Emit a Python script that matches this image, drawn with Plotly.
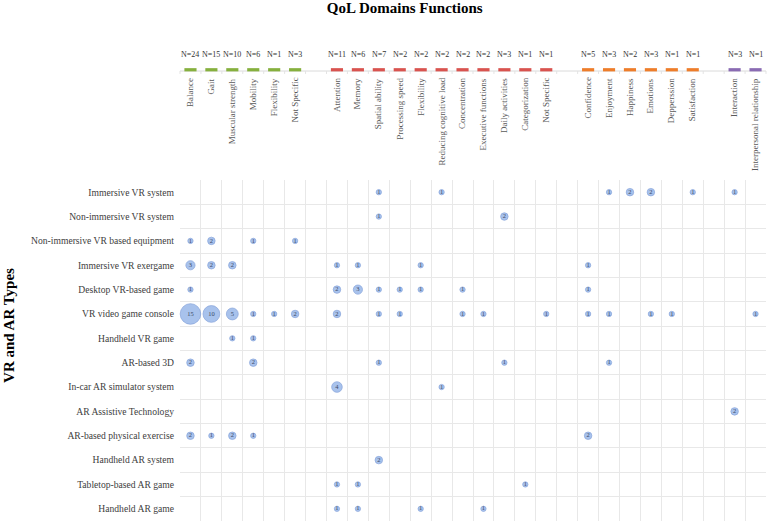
import math
import plotly.graph_objects as go

# ---------------- data ----------------
physical = ["Balance", "Gait", "Muscular strength", "Mobility", "Flexibility", "Not Specific"]
physical_n = [24, 15, 10, 6, 1, 3]
cognitive = ["Attention", "Memory", "Spatial ability", "Processing speed", "Flexibility",
             "Reducing cognitive load", "Concentration", "Executive functions",
             "Daily activities", "Categorization", "Not Specific"]
cognitive_n = [11, 6, 7, 2, 2, 2, 2, 2, 3, 1, 1]
emotional = ["Confidence", "Enjoyment", "Happiness", "Emotions", "Depperssion", "Satisfaction"]
emotional_n = [5, 3, 2, 3, 1, 1]
social = ["Interaction", "Interpersonal relationship"]
social_n = [3, 1]

vr_ar_types = [
    "Immersive VR system", "Non-immersive VR system", "Non-immersive VR based equipment",
    "Immersive VR exergame", "Desktop VR-based game", "VR video game console",
    "Handheld VR game", "AR-based 3D", "In-car AR simulator system",
    "AR Assistive Technology", "AR-based physical exercise", "Handheld AR system",
    "Tabletop-based AR game", "Handheld AR game",
]

# counts: physical(6) | cognitive(11) | emotional(6) | social(2)
counts = [
    [0, 0, 0, 0, 0, 0,  0, 0, 1, 0, 0, 1, 0, 0, 0, 0, 0,  0, 1, 2, 2, 0, 1,  1, 0],
    [0, 0, 0, 0, 0, 0,  0, 0, 1, 0, 0, 0, 0, 0, 2, 0, 0,  0, 0, 0, 0, 0, 0,  0, 0],
    [1, 2, 0, 1, 0, 1,  0, 0, 0, 0, 0, 0, 0, 0, 0, 0, 0,  0, 0, 0, 0, 0, 0,  0, 0],
    [3, 2, 2, 0, 0, 0,  1, 1, 0, 0, 1, 0, 0, 0, 0, 0, 0,  1, 0, 0, 0, 0, 0,  0, 0],
    [1, 0, 0, 0, 0, 0,  2, 3, 1, 1, 1, 0, 1, 0, 0, 0, 0,  1, 0, 0, 0, 0, 0,  0, 0],
    [15, 10, 5, 1, 1, 2, 2, 0, 1, 1, 0, 0, 1, 1, 0, 0, 1, 1, 1, 0, 1, 1, 0,  0, 1],
    [0, 0, 1, 1, 0, 0,  0, 0, 0, 0, 0, 0, 0, 0, 0, 0, 0,  0, 0, 0, 0, 0, 0,  0, 0],
    [2, 0, 0, 2, 0, 0,  0, 0, 1, 0, 0, 0, 0, 0, 1, 0, 0,  0, 1, 0, 0, 0, 0,  0, 0],
    [0, 0, 0, 0, 0, 0,  4, 0, 0, 0, 0, 1, 0, 0, 0, 0, 0,  0, 0, 0, 0, 0, 0,  0, 0],
    [0, 0, 0, 0, 0, 0,  0, 0, 0, 0, 0, 0, 0, 0, 0, 0, 0,  0, 0, 0, 0, 0, 0,  2, 0],
    [2, 1, 2, 1, 0, 0,  0, 0, 0, 0, 0, 0, 0, 0, 0, 0, 0,  2, 0, 0, 0, 0, 0,  0, 0],
    [0, 0, 0, 0, 0, 0,  0, 0, 2, 0, 0, 0, 0, 0, 0, 0, 0,  0, 0, 0, 0, 0, 0,  0, 0],
    [0, 0, 0, 0, 0, 0,  1, 1, 0, 0, 0, 0, 0, 0, 0, 1, 0,  0, 0, 0, 0, 0, 0,  0, 0],
    [0, 0, 0, 0, 0, 0,  1, 1, 0, 0, 1, 0, 0, 1, 0, 0, 0,  0, 0, 0, 0, 0, 0,  0, 0],
]

domain_colors = ["#86B03E", "#D9534F", "#EE7D2A", "#8A6BB3"]

# ---------------- layout of columns (gap column between domains) ----------------
groups = [(physical, physical_n), (cognitive, cognitive_n), (emotional, emotional_n), (social, social_n)]
col_pos, col_label, col_n, col_color = [], [], [], []
pos = 0
for gi, (labels, ns) in enumerate(groups):
    for lab, n in zip(labels, ns):
        col_pos.append(pos)
        col_label.append(lab)
        col_n.append(n)
        col_color.append(domain_colors[gi])
        pos += 1
    if gi < len(groups) - 1:
        pos += 1  # gap column
ncols = pos  # 28

xs, ys, vals = [], [], []
for r, row in enumerate(counts):
    for c, v in enumerate(row):
        if v > 0:
            xs.append(col_pos[c])
            ys.append(r)
            vals.append(v)

sizes = [5.3 * math.sqrt(v) for v in vals]

fig = go.Figure()
fig.add_trace(go.Scatter(
    x=xs, y=ys, mode="markers+text",
    text=[str(v) for v in vals],
    textposition="middle center",
    textfont=dict(family="Liberation Serif", size=6.5, color="#3A4A66"),
    marker=dict(size=sizes, color="rgba(115,157,225,0.88)",
                line=dict(color="rgba(88,128,205,0.9)", width=0.8)),
    hoverinfo="skip", showlegend=False, cliponaxis=False,
))

FONT = "Liberation Serif"
annotations = []
shapes = []

# header line
shapes.append(dict(type="line", xref="paper", yref="paper", x0=0, x1=1,
                   y0=1.3196, y1=1.3196, line=dict(color="#DADADA", width=1)))
for k in range(ncols + 1):
    shapes.append(dict(type="line", xref="paper", yref="paper", x0=k / ncols, x1=k / ncols,
                       y0=1.3196, y1=1.311, line=dict(color="#E3E3E3", width=1)))

for p, lab, n, colr in zip(col_pos, col_label, col_n, col_color):
    xc = (p + 0.5) / ncols
    hw = 0.29 / ncols
    shapes.append(dict(type="rect", xref="paper", yref="paper", x0=xc - hw, x1=xc + hw,
                       y0=1.3185, y1=1.328, fillcolor=colr, line=dict(width=0)))
    annotations.append(dict(x=p, xref="x", y=1.3666, yref="paper", text="N=%d" % n,
                            showarrow=False, xanchor="center", yanchor="middle",
                            font=dict(family=FONT, size=8, color="#333333")))
    annotations.append(dict(x=p, xref="x", y=1.305, yref="paper", text=lab, textangle=-90,
                            showarrow=False, xanchor="center", yanchor="top",
                            font=dict(family=FONT, size=9, color="#595959")))

annotations.append(dict(x=-0.2918, xref="paper", y=0.572, yref="paper",
                        text="<b>VR and AR Types</b>", textangle=-90, showarrow=False,
                        xanchor="center", yanchor="middle",
                        font=dict(family=FONT, size=15, color="#000000")))

fig.update_layout(
    width=768, height=523,
    margin=dict(l=180, r=2, t=180, b=2),
    paper_bgcolor="white", plot_bgcolor="white",
    title=dict(text="<b>QoL Domains Functions</b>", x=0.527, xref="container",
               y=0.985, yref="container", xanchor="center", yanchor="middle",
               font=dict(family=FONT, size=15, color="#000000")),
    xaxis=dict(range=[-0.5, ncols - 0.5], showticklabels=False, showgrid=False,
               zeroline=False, ticks="", fixedrange=True,
               minor=dict(tickmode="array", tickvals=[k - 0.5 for k in range(ncols + 1)],
                          showgrid=True, gridcolor="#E8E8E8", gridwidth=1, ticks="")),
    yaxis=dict(range=[len(vr_ar_types) - 0.5, -0.5], tickmode="array",
               tickvals=list(range(len(vr_ar_types))), ticktext=vr_ar_types,
               showgrid=False, zeroline=False, ticks="", ticklabelstandoff=5,
               tickfont=dict(family=FONT, size=9.6, color="#404040"), fixedrange=True,
               minor=dict(tickmode="array",
                          tickvals=[k - 0.5 for k in range(len(vr_ar_types) + 1)],
                          showgrid=True, gridcolor="#E8E8E8", gridwidth=1, ticks="")),
    annotations=annotations,
    shapes=shapes,
)

fig.write_html("out.html", config={"displayModeBar": False},
               post_script="document.body.style.margin='0';")
